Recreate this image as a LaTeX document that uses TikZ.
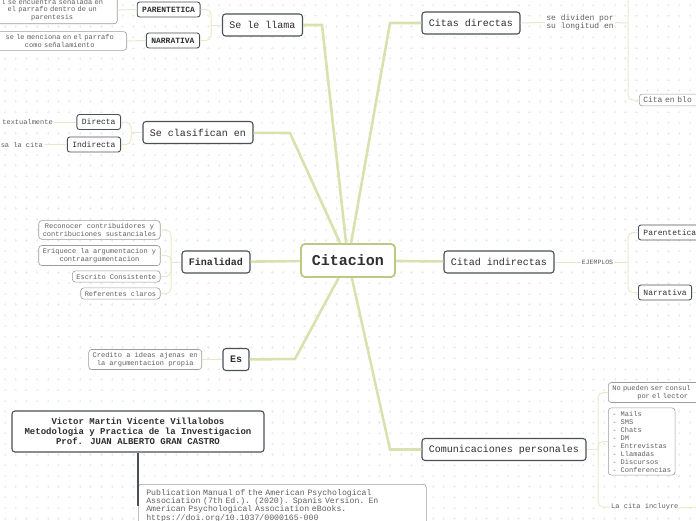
\documentclass[tikz,border=0pt]{standalone}
\usepackage{fontspec}
\setmainfont{Liberation Mono}[WordSpace={1,0,0}]
\definecolor{rama}{HTML}{D8E2AE}
\definecolor{ramita}{HTML}{E4EBC9}
\definecolor{borde}{HTML}{4A5057}
\definecolor{centro}{HTML}{B9CA82}
\definecolor{gris}{HTML}{9C9C9C}
\definecolor{texto}{HTML}{2E2E2E}
\definecolor{nota}{HTML}{5F5F5F}
\begin{document}
\begin{tikzpicture}[x=1pt,y=-1pt,
 tema/.style={draw=borde,line width=1.1pt,rounded corners=3pt,fill=white,text=texto,font=\fontsize{10}{12}\selectfont,inner xsep=7pt,minimum height=22pt},
 centro/.style={draw=centro,line width=1.8pt,rounded corners=4pt,fill=white,text=texto,font=\fontsize{15}{18}\selectfont\bfseries,minimum width=94pt,minimum height=33pt},
 etiqueta/.style={draw=borde,line width=.9pt,rounded corners=2.5pt,fill=white,text=texto,font=\fontsize{8}{10}\selectfont,inner xsep=5pt,minimum height=15pt},
 nota/.style={draw=gris,line width=.6pt,rounded corners=3pt,fill=white,text=nota,font=\fontsize{7}{7.5}\selectfont,align=center,inner xsep=4pt,inner ysep=3pt},
 suelto/.style={text=nota,font=\fontsize{8}{8.5}\selectfont,inner sep=1pt},
 rama/.style={draw=rama,line width=2.6pt},
 ramita/.style={draw=ramita,line width=1pt,rounded corners=5pt},
 rejilla/.style={draw=gray!14,line width=.6pt,dash pattern=on 2.4pt off 8.3pt,dash phase=6.9pt}]
\clip(0,0)rectangle(696,520);\useasboundingbox(0,0)rectangle(696,520);
\foreach\y in{5,15.7,...,520}\draw[rejilla](0,\y)--(696,\y);
\foreach\x in{5,15.7,...,696}\draw[rejilla](\x,0)--(\x,520);

\node[centro](cit)at(348,260.5){Citacion};
\node[tema](llama)at(262.5,25){Se le llama};
\node[tema](clasif)at(198,132.5){Se clasifican en};
\node[tema](final)at(216,262){\bfseries Finalidad};
\node[tema](es)at(236,359.5){\bfseries Es};
\node[tema](cdir)at(471,23){Citas directas};
\node[tema](cind)at(499,262){Citad indirectas};
\node[tema](com)at(504,449.5){Comunicaciones personales};
\draw[rama](cit)--(322,25)--(llama);\draw[rama](cit)--(290,133)--(clasif);\draw[rama](cit)--(final);
\draw[rama](cit)--(295,359)--(es);\draw[rama](cit)--(390,23)--(cdir);\draw[rama](cit)--(cind);
\draw[rama](cit)--(390,449.5)--(com);

\node[etiqueta,anchor=east](par)at(200.5,9.5){\bfseries PARENTETICA};
\node[etiqueta,anchor=east](nar)at(200,40.5){\bfseries NARRATIVA};
\node[nota,anchor=east,text width=122pt](n1)at(117.5,10){l se encuentra señalada en\\el parrafo dentro de un\\parentesis};
\node[nota,anchor=east,text width=126pt](n2)at(127,41){se le menciona en el parrafo\\como señalamiento};
\coordinate(j1)at(211,25);\draw[ramita](llama.west)--(j1);\draw[ramita](j1)|-(par.east);\draw[ramita](j1)|-(nar.east);
\draw[ramita](par.west)--(n1.east);\draw[ramita](nar.west)--(n2.east);

\node[etiqueta,anchor=east](dir)at(121,122){Directa};
\node[etiqueta,anchor=east](ind)at(121,144.5){Indirecta};
\node[suelto,anchor=east,font=\fontsize{7}{8}\selectfont](t1)at(54,122){textualmente};
\node[suelto,anchor=east,font=\fontsize{7}{8}\selectfont](t2)at(44,144.5){sa la cita};
\coordinate(j2)at(131,132.5);\draw[ramita](clasif.west)--(j2);\draw[ramita](j2)|-(dir.east);\draw[ramita](j2)|-(ind.east);
\draw[ramita](dir.west)--(t1.east);\draw[ramita](ind.west)--(t2.east);

\node[nota,anchor=east](f1)at(160.5,230){Reconocer contribuidores y\\contribuciones sustanciales};
\node[nota,anchor=east](f2)at(160.5,255.5){Eriquece la argumentacion y\\contraargumentacion};
\node[nota,anchor=east](f3)at(160.5,276.5){Escrito Consistente};
\node[nota,anchor=east](f4)at(160.5,293.5){Referentes claros};
\coordinate(j3)at(171,262);\draw[ramita](final.west)--(j3);
\foreach\f in{f1,f2,f3,f4}\draw[ramita](j3)|-(\f.east);

\node[nota,anchor=east](e1)at(202,359.5){Credito a ideas ajenas en\\la argumentacion propia};
\draw[ramita](es.west)--(e1.east);

\node[tema,align=center,font=\fontsize{9}{10}\selectfont\bfseries,minimum width=252pt,minimum height=41pt](autor)at(138,431.5){Victor Martin Vicente Villalobos\\Metodologia y Practica de la Investigacion\\Prof. JUAN ALBERTO GRAN CASTRO};
\node[nota,anchor=north west,align=left,text width=272pt,font=\fontsize{8.2}{8.3}\selectfont,inner xsep=8pt,inner ysep=5pt](pub)at(138,484){Publication Manual of the American Psychological\\Association (7th Ed.). (2020). Spanis Version. En\\American Psychological Association eBooks.\\https://doi.org/10.1037/0000165-000};
\draw[borde,line width=1.2pt](autor.south)--(autor.south|-pub.west);

\node[suelto,align=left](divi)at(580,22.5){se dividen por\\su longitud en};
\node[nota,anchor=west,text width=70pt,align=left,font=\fontsize{8}{9}\selectfont](blo)at(639,100){Cita en blo};
\coordinate(j4)at(628,23);\coordinate(arriba)at(650,-20);
\draw[ramita](cdir.east)--(divi.west);\draw[ramita](divi.east)--(j4);\draw[ramita](j4)|-(blo.west);\draw[ramita](j4)|-(arriba);

\node[suelto,font=\fontsize{6.5}{7}\selectfont](ejem)at(597.5,262){EJEMPLOS};
\node[etiqueta,anchor=west](par2)at(638,232.5){Parentetica};
\node[etiqueta,anchor=west](nar2)at(638,292.5){Narrativa};
\coordinate(j5)at(628,262);\coordinate(der)at(710,292.5);
\draw[ramita](cind.east)--(ejem.west);\draw[ramita](ejem.east)--(j5);\draw[ramita](j5)|-(par2.west);\draw[ramita](j5)|-(nar2.west);
\draw[ramita](nar2.east)--(der);

\node[nota,anchor=west,align=left,text width=100pt](noc)at(608,392.5){No pueden ser consul\\\hspace*{25pt}por el lector};
\node[nota,anchor=west,align=left,font=\fontsize{7}{8}\selectfont](lista)at(608,441.5){- Mails\\- SMS\\- Chats\\- DM\\- Entrevistas\\- Llamadas\\- Discursos\\- Conferencias};
\node[suelto,anchor=west,font=\fontsize{7}{8}\selectfont](incl)at(610,507){La cita incluyre};
\coordinate(j6)at(598,449.5);\coordinate(der2)at(710,507);
\draw[ramita](com.east)--(j6);\foreach\h in{noc,lista,incl}\draw[ramita](j6)|-(\h.west);
\draw[ramita](incl.east)--(der2);
\end{tikzpicture}
\end{document}
